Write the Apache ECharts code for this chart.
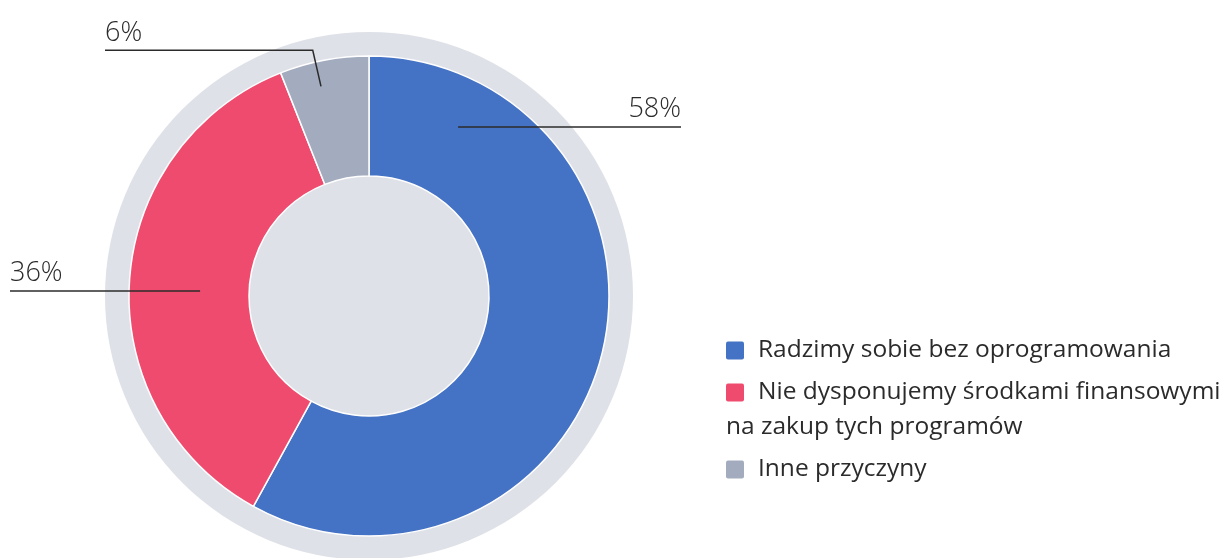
<!DOCTYPE html>
<html>
<head>
<meta charset="utf-8">
<script src="https://cdn.jsdelivr.net/npm/echarts@6/dist/echarts.min.js"></script>
<style>
  html, body { margin: 0; padding: 0; background: #ffffff; }
  #chart { width: 1222px; height: 558px; }
</style>
</head>
<body>
<div id="chart"></div>
<script>
// Reasons for not using the software (share of answers, %)
const categories = [
  'Radzimy sobie bez oprogramowania',
  'Nie dysponujemy środkami finansowymi\nna zakup tych programów',
  'Inne przyczyny'
];
const values = [58, 36, 6];
const colors = ['#4472c4', '#ef4b6e', '#a3acbe'];

const FONT = 'Open Sans';
const CENTER = [369, 296];
const RING = [120, 240];

// Leader lines: anchor angle (deg, clockwise from 12 o'clock), start radius,
// elbow radius and the x where the horizontal run ends.
const leaderLayout = [
  { angle: 27.8, r1: 191, r2: 191, endX: 681 },
  { angle: -88.3, r1: 169, r2: 169, endX: 10 },
  { angle: -12.9, r1: 215, r2: 252, endX: 105 }
];

function polar(angleDeg, r) {
  const a = angleDeg * Math.PI / 180;
  return [CENTER[0] + r * Math.sin(a), CENTER[1] - r * Math.cos(a)];
}

const richStyles = {
  t: { fontFamily: FONT, fontSize: 24.5, color: '#2b2b2b', lineHeight: 35 },
  g: { width: 14, height: 18 }
};
colors.forEach((c, i) => {
  richStyles['s' + i] = { width: 18, height: 18, backgroundColor: c, borderRadius: 2 };
});

const chart = echarts.init(document.getElementById('chart'), null, { renderer: 'canvas' });

chart.setOption({
  animation: false,
  backgroundColor: '#ffffff',
  legend: {
    orient: 'vertical',
    left: 716,
    top: 328,
    icon: 'none',
    itemWidth: 0,
    itemHeight: 18,
    itemGap: 7,
    data: categories,
    selectedMode: false,
    formatter: function (name) {
      const i = categories.indexOf(name);
      const lines = name.split('\n');
      return lines.map((ln, k) =>
        (k === 0 ? '{s' + i + '|}{g|}' : '') + '{t|' + ln + '}'
      ).join('\n');
    },
    textStyle: { rich: richStyles, lineHeight: 35 }
  },
  series: [
    {
      // grey disc behind the ring
      type: 'pie',
      silent: true,
      center: CENTER,
      radius: [0, 264],
      z: 1,
      label: { show: false },
      labelLine: { show: false },
      emphasis: { disabled: true },
      itemStyle: { color: '#dfe1e8' },
      data: [{ value: 1, name: '' }]
    },
    {
      // coloured ring
      type: 'pie',
      center: CENTER,
      radius: RING,
      startAngle: 90,
      clockwise: true,
      z: 2,
      itemStyle: { borderColor: '#ffffff', borderWidth: 1.5 },
      emphasis: { disabled: true },
      label: { show: false },
      labelLine: { show: false },
      data: categories.map((name, i) => ({
        name: name,
        value: values[i],
        itemStyle: { color: colors[i] }
      }))
    },
    {
      // see-through copy on top carrying the value labels and leader lines
      type: 'pie',
      silent: true,
      center: CENTER,
      radius: RING,
      startAngle: 90,
      clockwise: true,
      z: 3,
      emphasis: { disabled: true },
      itemStyle: { color: 'rgba(0,0,0,0)', borderWidth: 0 },
      data: categories.map((name, i) => ({ name: name, value: values[i] })),
      label: {
        show: true,
        position: 'outside',
        formatter: function (p) { return p.value + '%'; },
        fontFamily: FONT,
        fontWeight: 300,
        fontSize: 27,
        color: '#2b2b2b'
      },
      labelLine: {
        show: true,
        lineStyle: { color: '#2b2b2b', width: 1.5 }
      },
      labelLayout: function (params) {
        const cfg = leaderLayout[params.dataIndex];
        const p1 = polar(cfg.angle, cfg.r1);
        const p2 = polar(cfg.angle, cfg.r2);
        const p3 = [cfg.endX, p2[1]];
        const right = cfg.endX > CENTER[0];
        return {
          x: cfg.endX,
          y: p2[1] - 4,
          align: right ? 'right' : 'left',
          verticalAlign: 'bottom',
          labelLinePoints: [p1, p2, p3]
        };
      }
    }
  ]
});
</script>
</body>
</html>
